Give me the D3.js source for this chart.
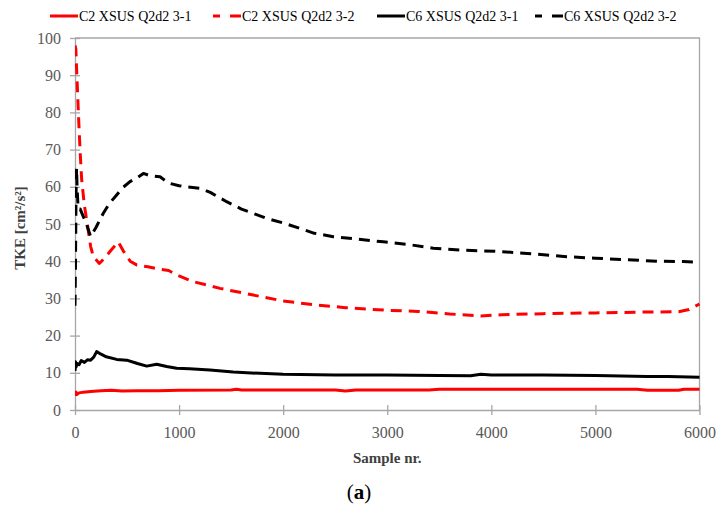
<!DOCTYPE html>
<html><head><meta charset="utf-8">
<script src="https://cdn.jsdelivr.net/npm/d3@7"></script>
<style>
html,body{margin:0;padding:0;background:#fff;}
svg{display:block;}
</style></head>
<body>
<div id="chart"></div>
<script>
// Series data: [sample, TKE]
const c2_31 = [[0,3.8],[10,4.8],[20,4.2],[40,4.6],[80,4.8],[150,5.0],[250,5.2],[350,5.3],[450,5.1],[600,5.2],[800,5.2],[1000,5.3],[1500,5.4],[1550,5.6],[1600,5.4],[2500,5.4],[2600,5.1],[2700,5.4],[3400,5.4],[3500,5.6],[5400,5.6],[5500,5.3],[5800,5.3],[5850,5.6],[6000,5.6]];
const c2_32 = [[0,98],[8,97],[15,92],[25,85],[40,75],[52,68],[64,62],[90,55],[118,50],[150,44],[176,41.2],[234,39.4],[290,41],[336,42.6],[416,45.2],[470,42.5],[530,40],[592,39],[700,38.5],[817,37.8],[900,37.5],[977,36.3],[1137,34.5],[1393,32.7],[1713,30.9],[2000,29.3],[2300,28.3],[2600,27.5],[3000,26.8],[3300,26.5],[3600,25.8],[3900,25.3],[4100,25.6],[4500,25.9],[5000,26.1],[5400,26.3],[5800,26.4],[5900,27],[6000,28.5]];
const c6_31 = [[0,10.5],[5,13],[10,11.5],[20,12.5],[40,12.2],[60,13.3],[90,12.8],[120,13.5],[150,13.4],[180,14.2],[208,15.7],[250,15],[300,14.3],[400,13.6],[497,13.4],[600,12.5],[689,11.8],[785,12.3],[880,11.7],[977,11.2],[1100,11.1],[1297,10.75],[1520,10.2],[1777,9.85],[2000,9.6],[2500,9.4],[3000,9.4],[3500,9.3],[3800,9.2],[3900,9.6],[4000,9.4],[4500,9.4],[5000,9.3],[5500,9.0],[5700,9.0],[6000,8.8]];
const c6_32 = [[0,28],[5,40],[10,58],[15,65],[20,60],[30,54],[50,54],[80,52],[110,50],[150,46.6],[200,49],[272,52.9],[330,55.5],[400,57.8],[460,59.8],[528,61.4],[600,62.5],[657,63.6],[720,63],[817,62.7],[900,61],[1000,60.3],[1073,60],[1200,59.6],[1300,58.5],[1457,56],[1600,54],[1841,51.5],[2000,50.3],[2162,48.8],[2300,47.5],[2482,46.6],[2700,46],[2962,45.2],[3200,44.5],[3442,43.5],[3700,43],[4083,42.6],[4400,42],[4724,41.2],[5000,40.8],[5364,40.3],[5600,40],[5845,39.9],[6000,39.7]];

const seriesNames = ["C2 XSUS Q2d2 3-1","C2 XSUS Q2d2 3-2","C6 XSUS Q2d2 3-1","C6 XSUS Q2d2 3-2"];
const xTicks = [0,1000,2000,3000,4000,5000,6000];
const yTicks = [0,10,20,30,40,50,60,70,80,90,100];

const series = [
  {name: seriesNames[0], data: c2_31, color: "#ff0000", dash: null},
  {name: seriesNames[1], data: c2_32, color: "#ff0000", dash: "11,7"},
  {name: seriesNames[2], data: c6_31, color: "#000000", dash: null},
  {name: seriesNames[3], data: c6_32, color: "#000000", dash: "11,7"}
];

const W = 718, H = 519;
const m = {left: 75, right: 18.5, top: 38, bottom: 109};
const svg = d3.select("#chart").append("svg").attr("width", W).attr("height", H);
svg.append("rect").attr("width", W).attr("height", H).attr("fill", "#fff");

const x = d3.scaleLinear().domain([0, 6000]).range([m.left, W - m.right]);
const y = d3.scaleLinear().domain([0, 100]).range([H - m.bottom, m.top]);

const font = "'Liberation Serif', 'DejaVu Serif', serif";
const axisCol = "#a6a6a6";

// plot border (top, right)
svg.append("path")
  .attr("d", `M${x(0)},${y(100)}H${x(6000)}V${y(0)}`)
  .attr("fill", "none").attr("stroke", axisCol).attr("stroke-width", 1.3);

// axes
const xAxis = d3.axisBottom(x).tickValues(xTicks).tickSizeInner(6).tickSizeOuter(0).tickPadding(11).tickFormat(d3.format("d"));
const gx = svg.append("g").attr("transform", `translate(0,${y(0)})`).call(xAxis);
const yAxis = d3.axisLeft(y).tickValues(yTicks).tickSizeInner(5).tickSizeOuter(0).tickPadding(9).tickFormat(d3.format("d"));
const gy = svg.append("g").attr("transform", `translate(${x(0)},0)`).call(yAxis);

[gx, gy].forEach(g => {
  g.select(".domain").attr("stroke", axisCol).attr("stroke-width", 1.3);
  g.selectAll(".tick line").attr("stroke", axisCol).attr("stroke-width", 1.3);
  g.selectAll(".tick text").attr("fill", "#595959").style("font-family", font).style("font-size", "16px");
});
// crossing ticks
gx.selectAll(".tick line").attr("y1", -5).attr("y2", 5);
gy.selectAll(".tick line").attr("x1", -5).attr("x2", 5);

// lines
const line = d3.line().x(d => x(d[0])).y(d => y(d[1]));
svg.append("clipPath").attr("id", "clip").append("rect")
  .attr("x", x(0)).attr("y", y(100) - 2).attr("width", x(6000) - x(0) + 2).attr("height", y(0) - y(100) + 4);
const lg = svg.append("g").attr("clip-path", "url(#clip)");
series.forEach(s => {
  lg.append("path").datum(s.data).attr("d", line)
    .attr("fill", "none").attr("stroke", s.color).attr("stroke-width", 3)
    .attr("stroke-linejoin", "round")
    .attr("stroke-dasharray", s.dash);
});

// legend
const legX = [50, 213, 377, 535];
const legY = 16;
series.forEach((s, i) => {
  const g = svg.append("g").attr("transform", `translate(${legX[i]},${legY})`);
  g.append("line").attr("x1", 0).attr("x2", 28).attr("y1", 0).attr("y2", 0)
    .attr("stroke", s.color).attr("stroke-width", 3).attr("stroke-dasharray", s.dash ? "7,10,11" : null);
  g.append("text").attr("x", 29).attr("y", 0).attr("dy", "0.35em")
    .style("font-family", font).style("font-size", "14px").attr("fill", "#000")
    .text(s.name);
});

// axis titles
svg.append("text").attr("x", (x(0) + x(6000)) / 2).attr("y", 463)
  .attr("text-anchor", "middle").style("font-family", font).style("font-size", "15px").style("font-weight", "bold")
  .attr("fill", "#404040").text("Sample nr.");
svg.append("text").attr("transform", `translate(25,228) rotate(-90)`)
  .attr("text-anchor", "middle").style("font-family", font).style("font-size", "15px").style("font-weight", "bold")
  .attr("fill", "#404040").text("TKE [cm²/s²]");

// caption
const cap = svg.append("text").attr("x", 359).attr("y", 499).attr("text-anchor", "middle")
  .style("font-family", font).style("font-size", "21px").attr("fill", "#000");
cap.append("tspan").text("(");
cap.append("tspan").style("font-weight", "bold").text("a");
cap.append("tspan").text(")");
</script>
</body></html>
